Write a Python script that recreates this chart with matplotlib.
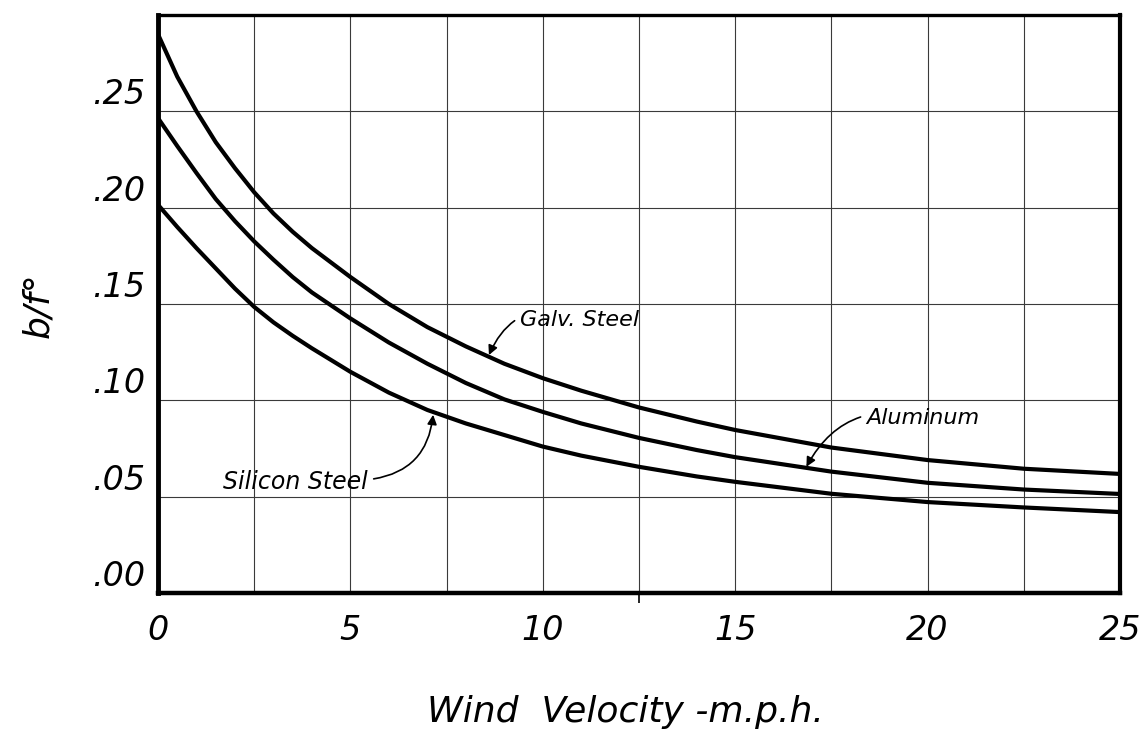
import matplotlib
matplotlib.use("Agg")
import matplotlib.pyplot as plt

# ---- data ----
wind_mph = [0, 0.5, 1, 1.5, 2, 2.5, 3, 3.5, 4, 5, 6, 7, 8, 9, 10, 11, 12.5, 14, 15, 17.5, 20, 22.5, 25]
galv_steel = [0.290, 0.268, 0.250, 0.234, 0.2205, 0.208, 0.197, 0.1875, 0.179, 0.164, 0.150, 0.138,
              0.128, 0.119, 0.1115, 0.105, 0.0963, 0.089, 0.0846, 0.0755, 0.069, 0.0645, 0.0618]
aluminum = [0.2465, 0.232, 0.218, 0.2045, 0.193, 0.1825, 0.173, 0.164, 0.156, 0.1425, 0.130, 0.119,
            0.109, 0.1005, 0.094, 0.088, 0.0805, 0.0742, 0.0705, 0.063, 0.0572, 0.0537, 0.0514]
silicon_steel = [0.2015, 0.190, 0.179, 0.1685, 0.158, 0.1485, 0.1405, 0.1335, 0.127, 0.1148, 0.104, 0.095,
                 0.088, 0.082, 0.076, 0.0713, 0.0655, 0.0605, 0.0577, 0.0515, 0.0472, 0.0444, 0.042]

x_ticks = [0, 5, 10, 15, 20, 25]
x_tick_labels = ["0", "5", "10", "15", "20", "25"]
y_ticks = [0.00, 0.05, 0.10, 0.15, 0.20, 0.25]
y_tick_labels = [".00", ".05", ".10", ".15", ".20", ".25"]

FONT = "DejaVu Sans"
W, H = 1148, 734

fig = plt.figure(figsize=(W / 100, H / 100), dpi=100)
ax = fig.add_axes([158 / W, 1 - 593 / H, (1120 - 158) / W, (593 - 15) / H])

ax.set_xlim(0, 25)
ax.set_ylim(0, 0.30)

# grid
for gx in [i * 2.5 for i in range(1, 10)]:
    ax.axvline(gx, color="#3a3a3a", lw=0.8, zorder=1)
for gy in [0.05, 0.10, 0.15, 0.20, 0.25]:
    ax.axhline(gy, color="#3a3a3a", lw=0.8, zorder=1)

for series in (galv_steel, aluminum, silicon_steel):
    ax.plot(wind_mph, series, color="black", lw=3.0, solid_capstyle="butt",
            solid_joinstyle="round", zorder=3)

# spines
for side, w in (("left", 3.5), ("bottom", 3.2), ("top", 2.4), ("right", 3.0)):
    ax.spines[side].set_linewidth(w)
    ax.spines[side].set_color("black")

ax.set_xticks(x_ticks)
ax.set_xticklabels(x_tick_labels, fontsize=24, style="italic", family=FONT)
ax.set_yticks(y_ticks)
ax.set_yticklabels(y_tick_labels, fontsize=24, style="italic", family=FONT)
ax.tick_params(axis="x", length=0, pad=15)
ax.tick_params(axis="y", length=0, pad=9)
for lab in ax.get_yticklabels():
    lab.set_verticalalignment("bottom")
ax.set_xticks([12.5], minor=True)
ax.tick_params(axis="x", which="minor", length=7, width=1.2, direction="out")

fig.text(625 / W, 1 - 712 / H, "Wind  Velocity -m.p.h.", fontsize=26, style="italic",
         family=FONT, ha="center", va="center")
fig.text(38 / W, 1 - 305 / H, "b/f°", rotation=90, fontsize=26, style="italic",
         family=FONT, ha="center", va="center")

# annotations
ax.annotate("Galv. Steel", xy=(8.6, 0.1235), xytext=(9.4, 0.1417),
            fontsize=16, style="italic", family=FONT, va="center", ha="left",
            arrowprops=dict(arrowstyle="-|>", color="black", lw=1.2, mutation_scale=14,
                            connectionstyle="arc3,rad=0.5", shrinkA=2, shrinkB=0))
ax.annotate("Aluminum", xy=(16.85, 0.0655), xytext=(18.4, 0.0908),
            fontsize=16, style="italic", family=FONT, va="center", ha="left",
            arrowprops=dict(arrowstyle="-|>", color="black", lw=1.2, mutation_scale=14,
                            connectionstyle="arc3,rad=0.4", shrinkA=2, shrinkB=0))
ax.annotate("Silicon Steel", xy=(7.15, 0.0925), xytext=(1.7, 0.0576),
            fontsize=17, style="italic", family=FONT, va="center", ha="left",
            arrowprops=dict(arrowstyle="-|>", color="black", lw=1.2, mutation_scale=14,
                            connectionstyle="arc3,rad=0.4", shrinkA=2, shrinkB=0,
                            relpos=(1.0, 0.6)))

fig.savefig("out.png", dpi=100, facecolor="white")
